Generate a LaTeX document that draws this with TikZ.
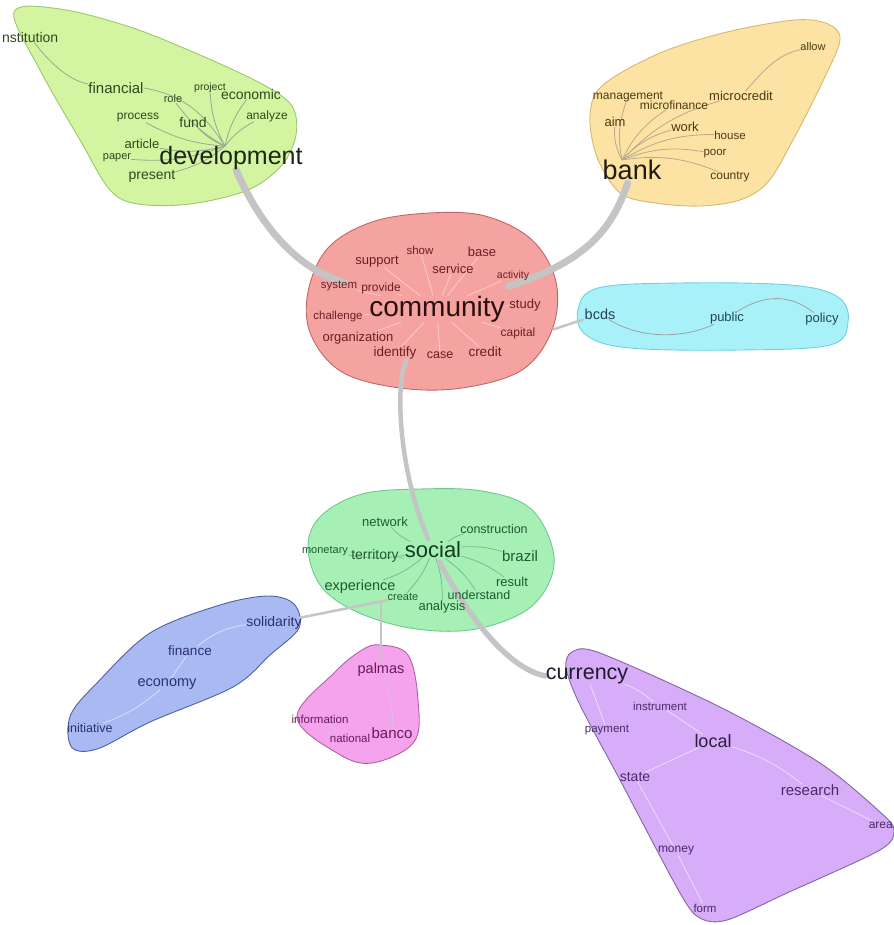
\documentclass[tikz,border=0pt]{standalone}
\usepackage{fontspec}
\setmainfont{Liberation Sans}
\pgfdeclarelayer{bg}
\pgfdeclarelayer{edges}
\pgfsetlayers{bg,edges,main}
\definecolor{devfill}{HTML}{D3F5A2}\definecolor{devline}{HTML}{9CC86A}
\definecolor{bankfill}{HTML}{FCE3A4}\definecolor{bankline}{HTML}{D8B870}
\definecolor{comfill}{HTML}{F5A3A0}\definecolor{comline}{HTML}{C06868}
\definecolor{bcdsfill}{HTML}{A9F1F9}\definecolor{bcdsline}{HTML}{70D0E0}
\definecolor{socfill}{HTML}{A6F0B6}\definecolor{socline}{HTML}{70C890}
\definecolor{solfill}{HTML}{A9BAF3}\definecolor{solline}{HTML}{5060A0}
\definecolor{palfill}{HTML}{F4A3EC}\definecolor{palline}{HTML}{B060A8}
\definecolor{curfill}{HTML}{D7ACF8}\definecolor{curline}{HTML}{8068A8}
\definecolor{devtxt}{HTML}{2D4A1A}\definecolor{devhub}{HTML}{1C2414}
\definecolor{banktxt}{HTML}{4A3A14}\definecolor{bankhub}{HTML}{201A10}
\definecolor{comtxt}{HTML}{6A1F24}\definecolor{comhub}{HTML}{2A0E10}
\definecolor{bcdstxt}{HTML}{1E4650}
\definecolor{soctxt}{HTML}{1F5A30}\definecolor{sochub}{HTML}{143A20}
\definecolor{soltxt}{HTML}{2A3070}
\definecolor{paltxt}{HTML}{6A1A5A}
\definecolor{curtxt}{HTML}{4A2A6A}\definecolor{curhub}{HTML}{1E1A2A}
\definecolor{edgegray}{HTML}{C4C4C4}
\definecolor{devedge}{HTML}{9AA890}\definecolor{bankedge}{HTML}{B8A890}
\definecolor{socedge}{HTML}{7FB890}\definecolor{soledge}{HTML}{D8E0F8}
\definecolor{paledge}{HTML}{D8C0E0}\definecolor{curedge}{HTML}{ECDCFA}
\definecolor{bcdsedge}{HTML}{A0A0A0}
\tikzset{
  wd/.style={font=\fontsize{#1}{#1}\selectfont, inner sep=0pt},
  blob/.style={line width=0.9pt},
  edge/.style={draw=edgegray, line width=#1, line cap=round},
  fine/.style={draw=#1, line width=0.8pt},
}
\begin{document}
\begin{tikzpicture}[x=1pt,y=-1pt]
\useasboundingbox (0,0) rectangle (893,925);
\begin{pgfonlayer}{bg}
\filldraw[blob, fill=devfill, draw=devline] plot[smooth cycle, tension=0.55] coordinates {(14,12) (60,9) (130,27) (200,55) (262,84) (292,106) (296,135) (282,165) (248,190) (190,204) (138,204) (110,190) (80,140) (40,70)};
\filldraw[blob, fill=bankfill, draw=bankline] plot[smooth cycle, tension=0.55] coordinates {(597,157) (590,115) (603,85) (660,53) (727,32) (795,20) (828,24) (840,40) (822,83) (793,140) (768,182) (740,200) (700,206) (655,203) (620,193)};
\filldraw[blob, fill=comfill, draw=comline] plot[smooth cycle, tension=0.6] coordinates {(430,213) (485,216) (532,240) (556,282) (552,330) (522,370) (462,388) (400,388) (342,372) (311,335) (308,292) (328,248) (372,222)};
\filldraw[blob, fill=bcdsfill, draw=bcdsline] plot[smooth cycle, tension=0.6] coordinates {(578,310) (598,288) (680,283) (790,285) (838,297) (848,322) (830,345) (740,350) (630,348) (586,335)};
\filldraw[blob, fill=socfill, draw=socline] plot[smooth cycle, tension=0.6] coordinates {(308,545) (322,515) (362,494) (420,489) (482,491) (530,508) (553,550) (548,585) (522,613) (470,630) (410,628) (355,611) (320,585)};
\filldraw[blob, fill=solfill, draw=solline] plot[smooth cycle, tension=0.55] coordinates {(68,735) (72,712) (95,685) (150,633) (220,605) (268,596) (294,604) (299,628) (270,655) (233,687) (150,722) (100,748) (75,750)};
\filldraw[blob, fill=palfill, draw=palline] plot[smooth cycle, tension=0.6] coordinates {(380,645) (408,655) (418,700) (414,742) (372,763) (337,753) (297,717) (335,672) (362,650)};
\filldraw[blob, fill=curfill, draw=curline] plot[smooth cycle, tension=0.5] coordinates {(566,668) (572,652) (600,653) (720,707) (820,763) (880,812) (894,830) (880,850) (787,893) (727,920) (700,918) (680,893) (620,780) (580,705)};
\end{pgfonlayer}

% development cluster
\begin{scope}[nodes={text=devtxt}]
\node[wd=14, anchor=west] (institution) at (2,37) {nstitution};
\node[wd=15] (financial) at (116,88) {financial};
\node[wd=11] (role) at (173,99) {role};
\node[wd=10.5] (project) at (210,88) {project};
\node[wd=14] (economic) at (251,94) {economic};
\node[wd=12] (analyze) at (267,116) {analyze};
\node[wd=12] (process) at (138,118) {process};
\node[wd=14] (fund) at (193,122) {fund};
\node[wd=13] (article) at (142,144) {article};
\node[wd=11] (paper) at (117,158) {paper};
\node[wd=14] (present) at (152,176) {present};
\node[wd=25, text=devhub] (development) at (231,158) {development};
\end{scope}

% bank cluster
\begin{scope}[nodes={text=banktxt}]
\node[wd=11] (allow) at (813,47) {allow};
\node[wd=12] (management) at (628,97) {management};
\node[wd=12] (microfinance) at (674,105) {microfinance};
\node[wd=13] (microcredit) at (741,96) {microcredit};
\node[wd=13] (aim) at (615,122) {aim};
\node[wd=13] (work) at (685,127) {work};
\node[wd=11.5] (house) at (730,135) {house};
\node[wd=11.5] (poor) at (715,154) {poor};
\node[wd=12] (country) at (730,177) {country};
\node[wd=27, text=bankhub] (bank) at (632,170) {bank};
\end{scope}

% community cluster
\begin{scope}[nodes={text=comtxt}]
\node[wd=11.5] (show) at (420,250) {show};
\node[wd=13] (base) at (482,252) {base};
\node[wd=13] (support) at (377,262) {support};
\node[wd=13] (service) at (453,269) {service};
\node[wd=10.5] (activity) at (513,276) {activity};
\node[wd=11.5] (system) at (339,286) {system};
\node[wd=12] (provide) at (381,288) {provide};
\node[wd=13] (study) at (525,305) {study};
\node[wd=11.5] (challenge) at (338,317) {challenge};
\node[wd=12] (capital) at (518,333) {capital};
\node[wd=13] (organization) at (358,338) {organization};
\node[wd=13.5] (identify) at (395,353) {identify};
\node[wd=12.5] (case) at (440,355) {case};
\node[wd=13.5] (credit) at (485,352) {credit};
\node[wd=28, text=comhub] (community) at (437,309) {community};
\end{scope}

% bcds cluster
\begin{scope}[nodes={text=bcdstxt}]
\node[wd=14.5] (bcds) at (600,314) {bcds};
\node[wd=13] (public) at (727,318) {public};
\node[wd=13] (policy) at (822,319) {policy};
\end{scope}

% social cluster
\begin{scope}[nodes={text=soctxt}]
\node[wd=13] (network) at (385,522) {network};
\node[wd=12.5] (construction) at (494,529) {construction};
\node[wd=11] (monetary) at (325,551) {monetary};
\node[wd=14] (territory) at (375,556) {territory};
\node[wd=15] (brazil) at (520,556) {brazil};
\node[wd=13] (result) at (512,582) {result};
\node[wd=14.5] (experience) at (360,587) {experience};
\node[wd=11] (create) at (403,597) {create};
\node[wd=12.5] (understand) at (479,595) {understand};
\node[wd=13] (analysis) at (442,607) {analysis};
\node[wd=22, text=sochub] (social) at (433,550) {social};
\end{scope}

% solidarity cluster
\begin{scope}[nodes={text=soltxt}]
\node[wd=14] (solidarity) at (274,623) {solidarity};
\node[wd=13.5] (finance) at (190,651) {finance};
\node[wd=14.5] (economy) at (167,684) {economy};
\node[wd=12.5] (initiative) at (90,728) {initiative};
\end{scope}

% palmas cluster
\begin{scope}[nodes={text=paltxt}]
\node[wd=14.5] (palmas) at (381,670) {palmas};
\node[wd=11.5] (information) at (320,719) {information};
\node[wd=11.5] (national) at (350,738) {national};
\node[wd=15] (banco) at (392,733) {banco};
\end{scope}

% currency cluster
\begin{scope}[nodes={text=curtxt}]
\node[wd=11.5] (instrument) at (660,706) {instrument};
\node[wd=11.5] (payment) at (607,730) {payment};
\node[wd=18, text=curhub!70!curtxt] (local) at (713,741) {local};
\node[wd=14] (state) at (635,777) {state};
\node[wd=15] (research) at (810,790) {research};
\node[wd=12, anchor=east] (area) at (893,825) {area};
\node[wd=12] (money) at (676,851) {money};
\node[wd=11.5] (form) at (705,908) {form};
\node[wd=21.5, text=curhub] (currency) at (587,676) {currency};
\end{scope}

\begin{pgfonlayer}{edges}
% inner links
\draw[fine=devedge] (institution) .. controls (55,70) and (75,82) .. (financial);
\draw[fine=devedge] (financial.east) .. controls (185,95) and (205,115) .. ([xshift=-6pt]development.north);
\foreach \n in {role,project,economic,analyze,process,fund,article,paper,present}
  \draw[fine=devedge] ([xshift=-6pt]development.north) to[bend left=12] (\n);
\foreach \n in {management,microfinance,aim,work,house,poor,country,microcredit}
  \draw[fine=bankedge] ([xshift=-10pt]bank.north) to[bend left=15] (\n);
\draw[fine=bankedge] (microcredit) .. controls (760,75) and (775,55) .. (allow);
\foreach \n in {support,show,base,service,activity,system,provide,challenge,organization,identify,case,credit,capital,study}
  \draw[fine=white, opacity=.45] (community) -- (\n);
\draw[fine=bcdsedge] (bcds) .. controls (645,342) and (690,336) .. (public);
\draw[fine=bcdsedge] (public) .. controls (765,294) and (790,294) .. (policy);
\foreach \n in {network,construction,monetary,territory,brazil,result,experience,create,understand,analysis}
  \draw[fine=socedge] (social) to[bend left=10] (\n);
\draw[fine=soledge] (solidarity) to[bend right=15] (finance);
\draw[fine=soledge] (finance) -- (economy);
\draw[fine=soledge] (economy) to[bend left=10] (initiative);
\draw[fine=paledge] (palmas) to[bend left=12] (banco);
\draw[fine=paledge] (banco) -- (national);
\draw[fine=paledge] (national) -- (information);
\draw[fine=curedge] (currency) to[bend left=10] (instrument);
\draw[fine=curedge] (currency) -- (payment);
\draw[fine=curedge] (instrument) -- (local);
\draw[fine=curedge] (local) -- (state);
\draw[fine=curedge] (local) to[bend left=10] (research);
\draw[fine=curedge] (research) -- (area);
\draw[fine=curedge] (state) -- (money);
\draw[fine=curedge] (money) -- (form);
% main links (from node centres, shortened)
\draw[edge=7pt, shorten <=13pt, shorten >=95pt] (development.center) .. controls (262,230) and (300,270) .. (community.center);
\draw[edge=7pt, shorten <=14pt, shorten >=75pt] (bank.center) .. controls (612,230) and (585,262) .. (community.center);
\draw[edge=2.5pt, shorten <=72pt, shorten >=18pt] (credit.center) -- (bcds.center);
\draw[edge=4.5pt, shorten <=60pt, shorten >=12pt] (community.center) .. controls (395,380) and (398,470) .. (social.center);
\draw[edge=5.5pt, shorten <=14pt] (social.center) .. controls (465,610) and (505,668) .. (currency.west);
\draw[edge=2.5pt, shorten <=26pt, shorten >=16pt] (solidarity.center) -- (create.center);
\draw[edge=2.5pt] (palmas.north) -- (palmas.north |- create.south);
\end{pgfonlayer}
\end{tikzpicture}
\end{document}
